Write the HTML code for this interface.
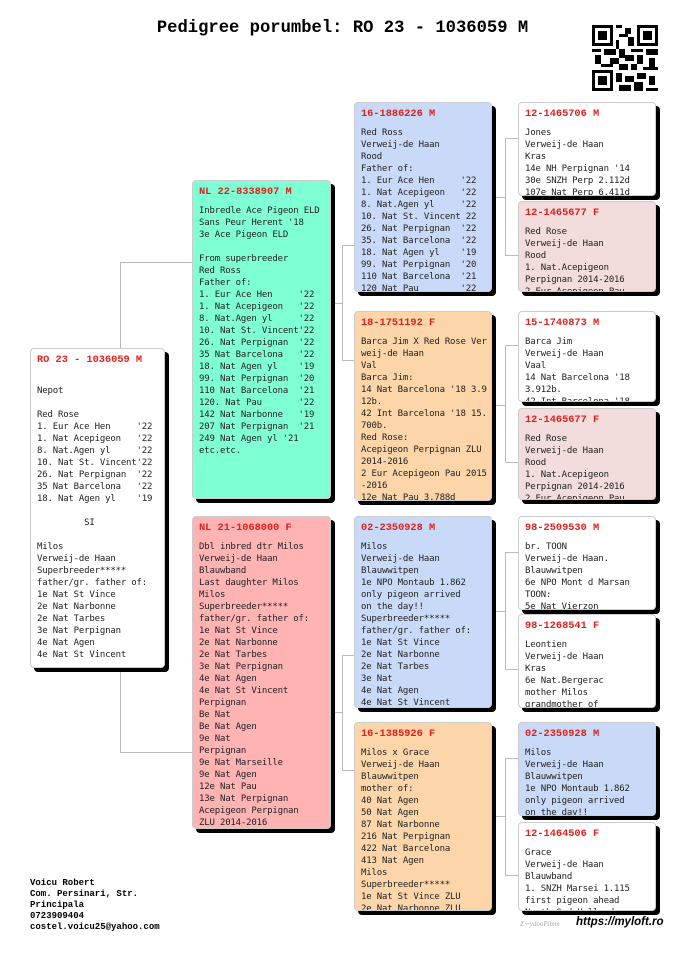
<!DOCTYPE html>
<html><head><meta charset="utf-8"><style>
body{margin:0;width:685px;height:968px;background:#fff;position:relative;overflow:hidden}
.t{position:absolute;left:0;width:685px;top:19px;text-align:center;font:bold 17.2px "Liberation Mono",monospace;color:#000}
.b{position:absolute;border:1px solid #ccc;border-radius:4px;box-shadow:4px 4px 0 #000;overflow:hidden;box-sizing:border-box;padding:4px 4px 4px 6px}
.b h{display:block;font:bold 10.3px "Liberation Mono",monospace;color:#e0201c;margin:1px 0 7px}
.b pre{margin:0;font:9px/12px "DejaVu Sans Mono",monospace;letter-spacing:-0.18px;color:#222;white-space:pre-wrap}
.l{position:absolute;background:#bbb}
.w{background:#fff}.g{background:#7fffd4}.p{background:#ffb3b3}.bl{background:#c9daf8}.o{background:#fcd5a8}.lp{background:#f2dcdc}
.f{position:absolute;left:30px;top:878px;font:bold 9px/11px "Liberation Mono",monospace}
</style></head><body>
<div class="t">Pedigree porumbel: RO 23 - 1036059 M</div>
<svg style="position:absolute;left:592px;top:25px" width="66" height="66" viewBox="0 0 22 22">
<rect width="22" height="22" fill="#fff"/>
<g fill="#000">
<rect x="0" y="0" width="7" height="7"/><rect x="15" y="0" width="7" height="7"/><rect x="0" y="15" width="7" height="7"/>
</g><g fill="#fff"><rect x="1" y="1" width="5" height="5"/><rect x="16" y="1" width="5" height="5"/><rect x="1" y="16" width="5" height="5"/></g>
<g fill="#000"><rect x="2" y="2" width="3" height="3"/><rect x="17" y="2" width="3" height="3"/><rect x="2" y="17" width="3" height="3"/>
<rect x="8" y="0" width="2" height="1"/><rect x="11" y="1" width="2" height="2"/><rect x="9" y="3" width="3" height="1"/><rect x="8" y="5" width="1" height="3"/><rect x="12" y="4" width="2" height="3"/>
<rect x="0" y="8" width="3" height="1"/><rect x="4" y="8" width="4" height="2"/><rect x="9" y="8" width="2" height="3"/><rect x="13" y="8" width="4" height="1"/><rect x="18" y="8" width="4" height="2"/>
<rect x="1" y="10" width="2" height="3"/><rect x="6" y="11" width="3" height="2"/><rect x="11" y="10" width="3" height="2"/><rect x="15" y="10" width="2" height="3"/><rect x="19" y="11" width="2" height="3"/>
<rect x="3" y="13" width="4" height="1"/><rect x="9" y="13" width="3" height="2"/><rect x="13" y="13" width="2" height="2"/><rect x="17" y="14" width="5" height="1"/>
<rect x="8" y="16" width="2" height="3"/><rect x="11" y="17" width="3" height="2"/><rect x="15" y="16" width="3" height="2"/><rect x="19" y="17" width="2" height="3"/><rect x="9" y="20" width="4" height="2"/><rect x="14" y="19" width="3" height="3"/><rect x="18" y="21" width="4" height="1"/></g></svg>

<div class="l" style="left:120px;top:262px;width:1px;height:491px"></div>
<div class="l" style="left:120px;top:262px;width:72px;height:1px"></div>
<div class="l" style="left:120px;top:752px;width:72px;height:1px"></div>
<div class="l" style="left:331px;top:303px;width:11px;height:1px"></div>
<div class="l" style="left:342px;top:245px;width:1px;height:116px"></div>
<div class="l" style="left:342px;top:245px;width:12px;height:1px"></div>
<div class="l" style="left:342px;top:360px;width:12px;height:1px"></div>
<div class="l" style="left:331px;top:712px;width:11px;height:1px"></div>
<div class="l" style="left:342px;top:655px;width:1px;height:116px"></div>
<div class="l" style="left:342px;top:655px;width:12px;height:1px"></div>
<div class="l" style="left:342px;top:770px;width:12px;height:1px"></div>
<div class="l" style="left:492px;top:197px;width:13px;height:1px"></div>
<div class="l" style="left:505px;top:138px;width:1px;height:118px"></div>
<div class="l" style="left:505px;top:138px;width:13px;height:1px"></div>
<div class="l" style="left:505px;top:255px;width:13px;height:1px"></div>
<div class="l" style="left:492px;top:405px;width:13px;height:1px"></div>
<div class="l" style="left:505px;top:345px;width:1px;height:118px"></div>
<div class="l" style="left:505px;top:345px;width:13px;height:1px"></div>
<div class="l" style="left:505px;top:462px;width:13px;height:1px"></div>
<div class="l" style="left:492px;top:611px;width:13px;height:1px"></div>
<div class="l" style="left:505px;top:552px;width:1px;height:118px"></div>
<div class="l" style="left:505px;top:552px;width:13px;height:1px"></div>
<div class="l" style="left:505px;top:669px;width:13px;height:1px"></div>
<div class="l" style="left:492px;top:816px;width:13px;height:1px"></div>
<div class="l" style="left:505px;top:758px;width:1px;height:118px"></div>
<div class="l" style="left:505px;top:758px;width:13px;height:1px"></div>
<div class="l" style="left:505px;top:875px;width:13px;height:1px"></div>

<div class="b w" style="left:30px;top:348px;width:135px;height:320px"><h>RO 23 - 1036059 M</h><pre>

Nepot

Red Rose
1. Eur Ace Hen     '22
1. Nat Acepigeon   '22
8. Nat.Agen yl     '22
10. Nat St. Vincent'22
26. Nat Perpignan  '22
35 Nat Barcelona   '22
18. Nat Agen yl    '19

         SI

Milos
Verweij-de Haan
Superbreeder*****
father/gr. father of:
1e Nat St Vince
2e Nat Narbonne
2e Nat Tarbes
3e Nat Perpignan
4e Nat Agen
4e Nat St Vincent</pre></div>

<div class="b g" style="left:192px;top:180px;width:139px;height:319px"><h>NL 22-8338907 M</h><pre>Inbredle Ace Pigeon ELD
Sans Peur Herent '18
3e Ace Pigeon ELD

From superbreeder
Red Ross
Father of:
1. Eur Ace Hen     '22
1. Nat Acepigeon   '22
8. Nat.Agen yl     '22
10. Nat St. Vincent'22
26. Nat Perpignan  '22
35 Nat Barcelona   '22
18. Nat Agen yl    '19
99. Nat Perpignan  '20
110 Nat Barcelona  '21
120. Nat Pau       '22
142 Nat Narbonne   '19
207 Nat Perpignan  '21
249 Nat Agen yl '21
etc.etc.</pre></div>

<div class="b p" style="left:192px;top:516px;width:139px;height:313px"><h>NL 21-1068000 F</h><pre>Dbl inbred dtr Milos
Verweij-de Haan
Blauwband
Last daughter Milos
Milos
Superbreeder*****
father/gr. father of:
1e Nat St Vince
2e Nat Narbonne
2e Nat Tarbes
3e Nat Perpignan
4e Nat Agen
4e Nat St Vincent
Perpignan
Be Nat
Be Nat Agen
9e Nat
Perpignan
9e Nat Marseille
9e Nat Agen
12e Nat Pau
13e Nat Perpignan
Acepigeon Perpignan
ZLU 2014-2016
etc.etc.</pre></div>

<div class="b bl" style="left:354px;top:102px;width:138px;height:190px"><h>16-1886226 M</h><pre>Red Ross
Verweij-de Haan
Rood
Father of:
1. Eur Ace Hen     '22
1. Nat Acepigeon   '22
8. Nat.Agen yl     '22
10. Nat St. Vincent 22
26. Nat Perpignan  '22
35. Nat Barcelona  '22
18. Nat Agen yl    '19
99. Nat Perpignan  '20
110 Nat Barcelona  '21
120 Nat Pau        '22</pre></div>

<div class="b o" style="left:354px;top:311px;width:138px;height:190px"><h>18-1751192 F</h><pre>Barca Jim X Red Rose Ver
weij-de Haan
Val
Barca Jim:
14 Nat Barcelona '18 3.9
12b.
42 Int Barcelona '18 15.
700b.
Red Rose:
Acepigeon Perpignan ZLU
2014-2016
2 Eur Acepigeon Pau 2015
-2016
12e Nat Pau 3.788d</pre></div>

<div class="b bl" style="left:354px;top:516px;width:138px;height:192px"><h>02-2350928 M</h><pre>Milos
Verweij-de Haan
Blauwwitpen
1e NPO Montaub 1.862
only pigeon arrived
on the day!!
Superbreeder*****
father/gr. father of:
1e Nat St Vince
2e Nat Narbonne
2e Nat Tarbes
3e Nat
4e Nat Agen
4e Nat St Vincent</pre></div>

<div class="b o" style="left:354px;top:722px;width:138px;height:189px"><h>16-1385926 F</h><pre>Milos x Grace
Verweij-de Haan
Blauwwitpen
mother of:
40 Nat Agen
50 Nat Agen
87 Nat Narbonne
216 Nat Perpignan
422 Nat Barcelona
413 Nat Agen
Milos
Superbreeder*****
1e Nat St Vince ZLU
2e Nat Narbonne ZLU</pre></div>

<div class="b w" style="left:518px;top:102px;width:138px;height:94px"><h>12-1465706 M</h><pre>Jones
Verweij-de Haan
Kras
14e NH Perpignan '14
30e SNZH Perp 2.112d
107e Nat Perp 6.411d</pre></div>
<div class="b lp" style="left:518px;top:201px;width:138px;height:91px"><h>12-1465677 F</h><pre>Red Rose
Verweij-de Haan
Rood
1. Nat.Acepigeon
Perpignan 2014-2016
2 Eur Acepigeon Pau</pre></div>
<div class="b w" style="left:518px;top:311px;width:138px;height:91px"><h>15-1740873 M</h><pre>Barca Jim
Verweij-de Haan
Vaal
14 Nat Barcelona '18
3.912b.
42 Int Barcelona '18</pre></div>
<div class="b lp" style="left:518px;top:408px;width:138px;height:92px"><h>12-1465677 F</h><pre>Red Rose
Verweij-de Haan
Rood
1. Nat.Acepigeon
Perpignan 2014-2016
2 Eur Acepigeon Pau</pre></div>
<div class="b w" style="left:518px;top:516px;width:138px;height:94px"><h>98-2509530 M</h><pre>br. TOON
Verweij-de Haan.
Blauwwitpen
6e NPO Mont d Marsan
TOON:
5e Nat Vierzon</pre></div>
<div class="b w" style="left:518px;top:614px;width:138px;height:94px"><h>98-1268541 F</h><pre>Leontien
Verweij-de Haan
Kras
6e Nat.Bergerac
mother Milos
grandmother of</pre></div>
<div class="b bl" style="left:518px;top:722px;width:138px;height:94px"><h>02-2350928 M</h><pre>Milos
Verweij-de Haan
Blauwwitpen
1e NPO Montaub 1.862
only pigeon arrived
on the day!!</pre></div>
<div class="b w" style="left:518px;top:822px;width:138px;height:89px"><h>12-1464506 F</h><pre>Grace
Verweij-de Haan
Blauwband
1. SNZH Marsei 1.115
first pigeon ahead
North Sud Holland</pre></div>

<div class="f">Voicu Robert<br>Com. Persinari, Str.<br>Principala<br>0723909404<br>costel.voicu25@yahoo.com</div>
<div style="position:absolute;left:520px;top:920px;font:italic 7px 'Liberation Serif',serif;color:#aaa">Ζ∽ydooPlmm</div>
<div style="position:absolute;left:576px;top:916px;font:bold italic 11.5px 'Liberation Sans',sans-serif">https://myloft.ro</div>
</body></html>
